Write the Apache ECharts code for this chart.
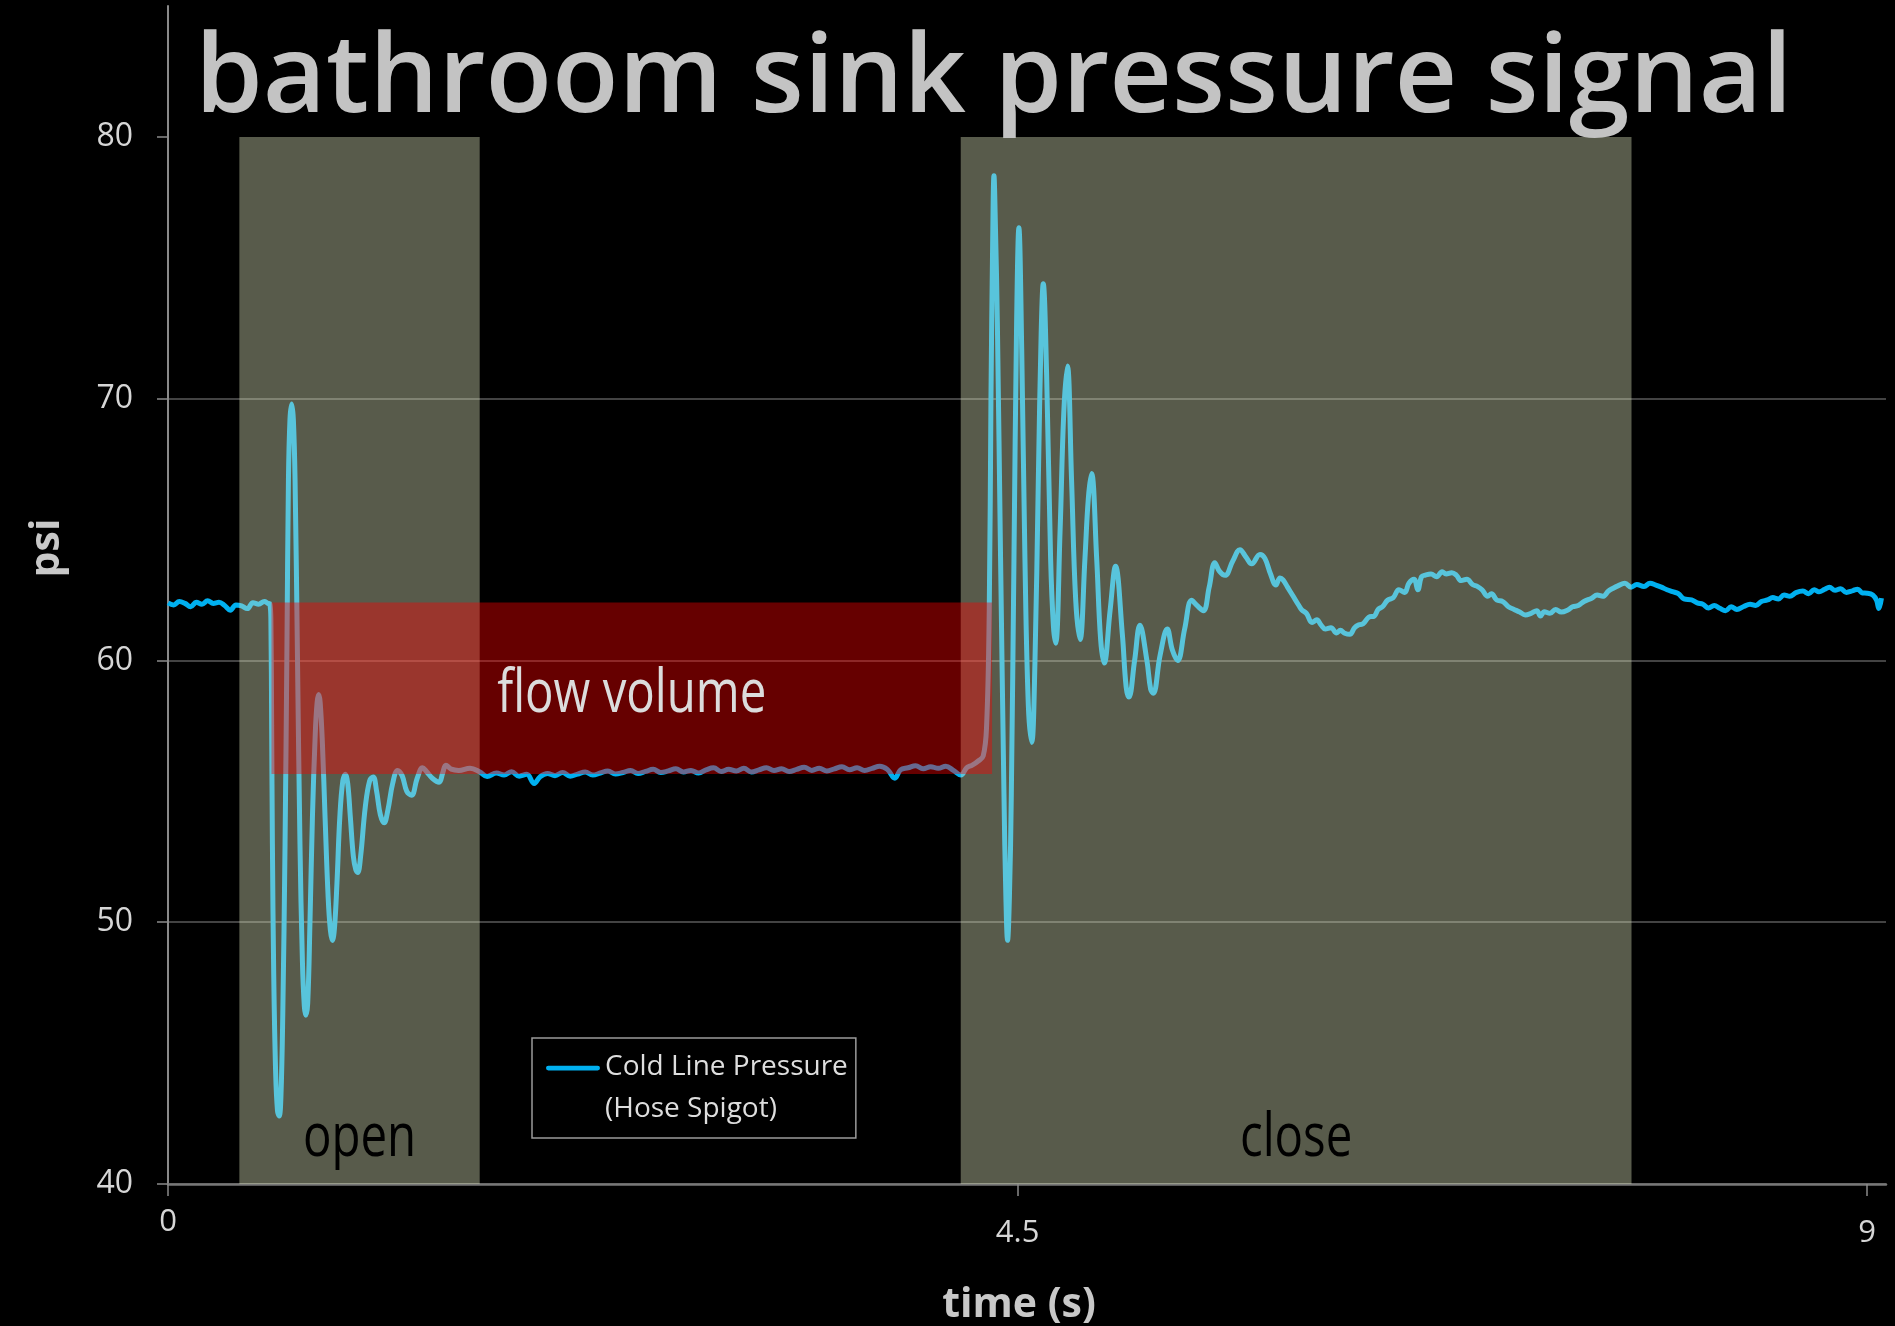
<!DOCTYPE html>
<html>
<head>
<meta charset="utf-8">
<script src="https://cdn.jsdelivr.net/npm/echarts@6/dist/echarts.min.js"></script>
<style>
  html, body { margin: 0; padding: 0; background: #000; }
  #chart { width: 1895px; height: 1326px; }
</style>
</head>
<body>
<div id="chart"></div>
<script>
// ---------------- data ----------------
const chartTitle = 'bathroom sink pressure signal';
const seriesName = 'Cold Line Pressure\n(Hose Spigot)';
const xTickLabels = [0, 4.5, 9];
const yTickLabels = [40, 50, 60, 70, 80];

// time (s)
const timeS = [
  0.00,0.03,0.06,0.09,0.12,0.15,0.18,0.21,0.24,0.27,0.30,0.33,0.36,0.39,0.42,0.45,0.48,0.51,0.53,0.540,
  0.545,0.549,0.553,0.560,0.570,0.580,0.589,0.598,0.608,0.620,0.630,0.638,0.646,0.655,0.664,0.673,0.686,0.699,0.712,0.722,
  0.730,0.740,0.752,0.765,0.780,0.790,0.798,0.806,0.818,0.832,0.848,0.860,0.871,0.882,0.895,0.910,0.926,0.940,0.952,0.966,
  0.982,0.995,1.005,1.020,1.045,1.068,1.087,1.105,1.125,1.145,1.165,1.19,1.216,1.24,1.265,1.29,1.32,1.348,1.37,1.40,
  1.436,1.455,1.472,1.50,1.54,1.60,1.65,
  1.69,1.74,1.78,1.82,1.86,1.90,1.94,1.97,2.01,2.05,2.09,2.13,2.17,2.21,2.25,2.29,2.33,2.37,2.41,2.45,
  2.49,2.53,2.57,2.61,2.65,2.69,2.73,2.77,2.81,2.85,2.89,2.93,2.97,3.01,3.05,3.09,3.13,3.17,3.21,3.25,
  3.29,3.33,3.37,3.41,3.45,3.49,3.53,3.57,3.61,3.65,3.69,3.73,3.77,3.81,3.85,3.88,3.92,3.96,4.00,4.04,
  4.08,4.12,4.16,4.20,4.23,4.26,4.29,
  4.318,4.336,4.350,4.359,4.368,4.375,4.383,4.393,4.410,4.428,4.438,4.447,4.457,4.467,4.481,4.495,4.507,4.522,4.539,4.557,
  4.575,4.592,4.610,4.625,4.636,4.654,4.675,4.690,4.702,4.725,4.745,4.764,4.786,4.808,4.831,4.857,4.875,4.892,4.919,4.940,
  4.959,4.99,5.019,5.055,5.075,5.090,5.12,5.148,5.185,5.205,5.219,5.255,5.293,5.32,5.348,5.385,5.422,5.45,5.484,5.515,
  5.545,5.57,5.599,5.64,5.678,5.71,5.740,5.784,
  5.81,5.84,5.868,5.89,5.906,5.93,5.96,5.99,6.006,6.03,6.06,6.085,6.107,6.13,6.16,6.19,6.21,6.233,6.26,6.285,
  6.308,6.33,6.36,6.39,6.41,6.434,6.46,6.49,6.52,6.55,6.573,6.60,6.62,6.64,6.660,6.69,6.72,6.749,6.77,6.80,
  6.824,6.85,6.88,6.91,6.937,6.96,6.99,7.01,7.038,7.07,7.10,7.13,7.16,7.189,7.22,7.25,7.27,7.290,7.32,7.35,
  7.38,7.415,7.44,7.47,7.50,7.541,7.57,7.60,7.63,7.655,7.68,7.717,7.75,7.78,7.818,7.85,7.881,7.91,7.94,7.969,
  8.00,8.03,8.070,8.10,8.13,8.16,8.19,8.220,8.25,8.28,8.31,8.346,8.38,8.41,8.44,8.472,8.50,8.53,8.56,8.59,
  8.623,8.66,8.69,8.72,8.745,8.775,8.80,8.83,8.86,8.89,8.925,8.95,8.975,9.00,9.03,9.05,9.062,9.076
];
// pressure (psi)
const pressurePsi = [
  62.20,62.12,62.25,62.18,62.05,62.22,62.15,62.28,62.18,62.22,62.10,61.92,62.12,62.08,61.98,62.20,62.15,62.25,62.18,62.15,
  61.5,57.5,53.0,48.0,44.3,42.8,42.6,43.3,46.5,53.0,60.5,66.9,69.2,69.8,69.2,66.9,60.0,53.0,48.5,46.8,
  46.45,46.9,50.0,54.0,57.2,58.4,58.7,58.4,56.8,54.0,51.0,49.7,49.3,49.8,51.5,54.0,55.4,55.65,55.3,54.0,
  52.5,52.0,51.9,52.5,54.4,55.4,55.55,55.0,54.1,53.8,54.3,55.3,55.8,55.6,55.0,54.85,55.5,55.9,55.75,55.5,
  55.35,55.7,56.0,55.85,55.8,55.88,55.75,
  55.57,55.70,55.62,55.75,55.58,55.65,55.30,55.55,55.68,55.60,55.72,55.58,55.66,55.74,55.62,55.70,55.78,55.66,55.72,55.80,
  55.68,55.76,55.84,55.72,55.78,55.86,55.74,55.80,55.70,55.82,55.90,55.76,55.84,55.78,55.88,55.74,55.82,55.90,55.80,55.86,
  55.76,55.84,55.92,55.80,55.88,55.78,55.86,55.94,55.82,55.90,55.80,55.88,55.96,55.84,55.50,55.82,55.90,55.98,55.86,55.94,
  55.88,55.96,55.80,55.62,55.90,56.00,56.15,
  56.35,57.5,61.9,69.9,75.9,78.52,76.5,72.9,63.9,54.9,51.0,49.31,51.0,54.9,63.9,72.9,76.53,71.9,63.9,58.3,
  56.87,59.9,66.9,72.5,74.39,70.9,63.9,61.3,60.66,64.9,69.5,71.25,66.9,62.3,60.8,63.9,66.2,67.14,63.9,60.8,
  59.9,61.9,63.6,61.0,59.0,58.6,60.0,61.34,60.0,58.9,58.75,60.2,61.2,60.4,60.0,61.2,62.3,62.1,61.9,62.8,
  63.73,63.4,63.25,63.8,64.23,63.95,63.69,64.05,
  63.90,63.30,62.88,63.15,63.08,62.80,62.45,62.10,61.93,61.80,61.45,61.55,61.36,61.20,61.25,61.05,61.15,61.04,61.00,61.25,
  61.36,61.40,61.65,61.70,61.95,62.06,62.30,62.40,62.70,62.60,62.95,63.10,62.70,63.20,63.26,63.30,63.20,63.39,63.30,63.35,
  63.26,63.05,63.10,62.90,62.82,62.70,62.45,62.55,62.31,62.25,62.05,61.95,61.85,61.74,61.80,61.90,61.70,61.86,61.80,61.95,
  61.85,61.93,62.05,62.10,62.25,62.38,62.50,62.45,62.65,62.76,62.85,62.95,62.80,62.90,62.82,62.95,62.88,62.80,62.70,62.63,
  62.55,62.35,62.31,62.20,62.15,62.00,62.10,61.99,61.90,62.05,61.95,62.06,62.15,62.10,62.25,62.31,62.40,62.35,62.50,62.45,
  62.59,62.65,62.55,62.70,62.62,62.72,62.80,62.68,62.74,62.60,62.67,62.72,62.58,62.57,62.50,62.30,61.98,62.38
];

// shaded phases (s) and labels
const phaseStart = [0.378, 4.199];
const phaseEnd = [1.651, 7.752];
const phaseLabels = ['open', 'close'];
const phaseLow = [40, 40];
const phaseHigh = [80, 80];
const phaseLabelLevel = [41.72, 41.72];

// flow volume box
const flowStart = [0.548];
const flowEnd = [4.365];
const flowLow = [55.66];
const flowHigh = [62.21];
const flowLabels = ['flow volume'];
const flowLabelLevel = [58.7];

// ---------------- chart ----------------
const FONT = "'Open Sans', sans-serif";
const chart = echarts.init(document.getElementById('chart'), null, { renderer: 'canvas' });

function boxRender(labels, fill, textFill, fontSize, scaleX) {
  return function (params, api) {
    const x0 = api.value(0), x1 = api.value(1), y0 = api.value(2), y1 = api.value(3), ly = api.value(4);
    const tl = api.coord([x0, y1]);
    const br = api.coord([x1, y0]);
    const lp = api.coord([(x0 + x1) / 2, ly]);
    return {
      type: 'group',
      children: [
        { type: 'rect', shape: { x: tl[0], y: tl[1], width: br[0] - tl[0], height: br[1] - tl[1] }, style: { fill: fill } },
        { type: 'text', x: lp[0], y: lp[1], scaleX: scaleX,
          style: { text: labels[params.dataIndex], fill: textFill, fontSize: fontSize, fontFamily: 'Open Sans',
                   align: 'center', verticalAlign: 'middle' } }
      ]
    };
  };
}

const lineData = timeS.map((t, i) => [t, pressurePsi[i]]);
const phaseData = phaseStart.map((s, i) => [s, phaseEnd[i], phaseLow[i], phaseHigh[i], phaseLabelLevel[i]]);
const flowData = flowStart.map((s, i) => [s, flowEnd[i], flowLow[i], flowHigh[i], flowLabelLevel[i]]);

chart.setOption({
  backgroundColor: '#000',
  animation: false,
  title: {
    text: chartTitle, left: 190, top: 21,
    textStyle: { fontFamily: FONT, fontSize: 109, fontWeight: 600, color: '#c3c3c3' }
  },
  legend: {
    data: [seriesName], left: 532, top: 1038, orient: 'vertical',
    padding: [8, 8, 8, 14], borderColor: '#9a9a9a', borderWidth: 1.5,
    itemWidth: 54, itemHeight: 84,
    icon: 'path://M0,0L0.01,0M1,18.5L53,18.5A2.5,2.5,0,0,1,53,23.5L1,23.5A2.5,2.5,0,0,1,1,18.5ZM0,84L0.01,84',
    itemStyle: { borderWidth: 0 },
    textStyle: { fontFamily: FONT, fontSize: 28, color: '#dedede', lineHeight: 42 }
  },
  grid: { left: 168, right: 9, top: 6, bottom: 142, containLabel: false, outerBoundsMode: 'none' },
  xAxis: {
    type: 'value', min: 0, max: 9.1, interval: 4.5,
    name: 'time (s)', nameLocation: 'middle', nameGap: 101,
    nameTextStyle: { fontFamily: FONT, fontWeight: 'bold', fontSize: 41, color: '#c8c8c8', padding: [0, 16, 0, 0] },
    axisLine: { lineStyle: { color: '#777', width: 2.5 } },
    axisTick: { customValues: xTickLabels, length: 12, lineStyle: { color: '#8a8a8a', width: 1.5 } },
    axisLabel: {
      customValues: xTickLabels, margin: 23,
      formatter: v => (v === 0 ? '{z|0}' : '{n|' + v + '}'),
      rich: {
        z: { fontFamily: FONT, fontSize: 31, color: '#d6d6d6' },
        n: { fontFamily: FONT, fontSize: 31, color: '#d6d6d6', padding: [11, 0, 0, 0] }
      }
    },
    splitLine: { show: false }
  },
  yAxis: {
    type: 'value', min: 40, max: 85, interval: 10,
    name: 'psi', nameLocation: 'middle', nameGap: 100,
    nameTextStyle: { fontFamily: FONT, fontWeight: 'bold', fontSize: 41, color: '#c8c8c8', padding: [0, 0, 0, 94] },
    axisLine: { show: true, lineStyle: { color: '#8a8a8a', width: 2 } },
    axisTick: { show: true, customValues: yTickLabels, length: 11, lineStyle: { color: '#8a8a8a', width: 1.5 } },
    axisLabel: { customValues: yTickLabels, margin: 35, fontFamily: FONT, fontSize: 32, color: '#d6d6d6' },
    splitLine: { show: true, showMaxLine: false, lineStyle: { color: '#5a5a5a', width: 1.5 } }
  },
  series: [
    {
      name: seriesName, type: 'line', data: lineData, z: 2,
      symbol: 'none', showSymbol: false, smooth: 0.4,
      lineStyle: { color: '#00b0f0', width: 5 }, itemStyle: { color: '#00b0f0' }
    },
    {
      name: 'phases', type: 'custom', z: 3, data: phaseData,
      encode: { x: [0, 1], y: [2, 3] }, silent: true,
      renderItem: boxRender(phaseLabels, 'rgba(220,228,188,0.4)', '#000', 60, 0.79)
    },
    {
      name: 'flow', type: 'custom', z: 4, data: flowData,
      encode: { x: [0, 1], y: [2, 3] }, silent: true,
      renderItem: boxRender(flowLabels, 'rgba(255,0,0,0.4)', '#dcdcdc', 60, 0.79)
    }
  ]
});
</script>
</body>
</html>
